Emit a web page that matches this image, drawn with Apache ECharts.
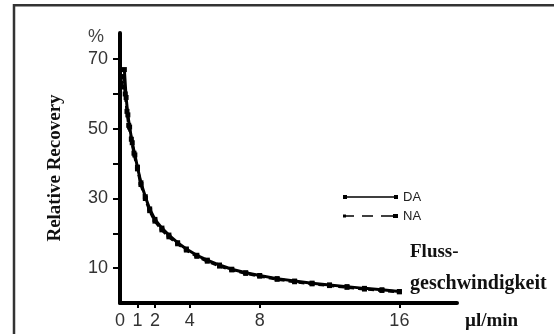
<!DOCTYPE html>
<html>
<head>
<meta charset="utf-8">
<script src="https://cdn.jsdelivr.net/npm/echarts@6/dist/echarts.min.js"></script>
<style>
html,body{margin:0;padding:0;background:#fff;}
#chart{width:554px;height:334px;}
</style>
</head>
<body>
<div id="chart"></div>
<script>
// Flow rate (µl/min)
var daFlow = [0.25, 0.35, 0.45, 0.55, 0.7, 0.85, 1.0, 1.2, 1.45, 1.7, 2.0, 2.4, 2.8, 3.3, 3.8, 4.4, 5.0, 5.7, 6.4, 7.2, 8.0, 9.0, 10.0, 11.0, 12.0, 13.0, 14.0, 15.0, 16.0];
// Relative recovery DA (%)
var daRecovery = [67, 59, 54, 50.5, 46, 42.5, 39, 34.5, 30.5, 27, 24, 21.5, 19.5, 17.3, 15.5, 13.7, 12.3, 10.9, 9.7, 8.7, 7.9, 7.0, 6.3, 5.7, 5.2, 4.7, 4.2, 3.8, 3.3];
var naFlow = [0.1, 0.2, 0.3, 0.4, 0.5, 0.65, 0.8, 1.0, 1.2, 1.45, 1.7, 2.0, 2.4, 2.8, 3.3, 3.8, 4.4, 5.0, 5.7, 6.4, 7.2, 8.0, 9.0, 10.0, 11.0, 12.0, 13.0, 14.0, 15.0, 16.0];
// Relative recovery NA (%)
var naRecovery = [62, 65, 60, 55, 51, 47, 43, 38.5, 34, 30, 26.5, 23.5, 21, 19, 17, 15.2, 13.4, 12, 10.6, 9.5, 8.5, 7.7, 6.8, 6.1, 5.5, 5.0, 4.5, 4.0, 3.6, 3.2];

var xTickLabels = [0, 1, 2, 4, 8, 16];
var xTicks = [1, 2, 4, 8, 16];
var yTickLabels = [10, 30, 50, 70];
var yTicks = [10, 20, 30, 40, 50, 60, 70];

function pairs(xs, ys) {
  return xs.map(function (x, i) { return [x, ys[i]]; });
}

var chart = echarts.init(document.getElementById('chart'), null, {renderer: 'canvas'});
var serif = 'Liberation Serif, Times New Roman, serif';
var sans = 'Liberation Sans, Arial, sans-serif';

chart.setOption({
  animation: false,
  backgroundColor: '#fff',
  grid: {left: 120, top: 33, width: 337, height: 270},
  legend: {
    orient: 'vertical',
    left: 338,
    top: 185,
    itemWidth: 55,
    itemHeight: 4,
    itemGap: 5,
    textStyle: {fontFamily: sans, fontSize: 13, lineHeight: 14, color: '#222'},
    data: [
      {name: 'DA', icon: 'path://M0,0H4V4H0Z M3,1.2H52V2.8H3Z M51,0H55V4H51Z'},
      {name: 'NA', icon: 'path://M0,0.5H3V3.5H0Z M2,1.3H11V2.7H2Z M19,1.3H30V2.7H19Z M38,1.3H51V2.7H38Z M50,0H55V4H50Z'}
    ]
  },
  xAxis: {
    type: 'value',
    min: 0,
    max: 19.3,
    splitLine: {show: false},
    axisLine: {show: true, lineStyle: {color: '#000', width: 4}},
    axisTick: {show: true, customValues: xTicks, length: 5, lineStyle: {color: '#000', width: 2}},
    axisLabel: {customValues: xTickLabels, margin: 9, fontFamily: sans, fontSize: 18, color: '#333'}
  },
  yAxis: {
    type: 'value',
    min: 0,
    max: 77.5,
    name: 'Relative Recovery',
    nameLocation: 'middle',
    nameGap: 55,
    nameTextStyle: {fontFamily: serif, fontWeight: 'bold', fontSize: 19, color: '#111'},
    splitLine: {show: false},
    axisLine: {show: true, lineStyle: {color: '#000', width: 4}},
    axisTick: {show: true, customValues: yTicks, length: 7, lineStyle: {color: '#000', width: 2}},
    axisLabel: {customValues: yTickLabels, margin: 12, fontFamily: sans, fontSize: 18, color: '#333'}
  },
  series: [
    {
      name: 'DA',
      type: 'line',
      data: pairs(daFlow, daRecovery),
      symbol: 'rect',
      symbolSize: 5,
      showAllSymbol: true,
      lineStyle: {color: '#000', width: 3, type: 'solid'},
      itemStyle: {color: '#000'}
    },
    {
      name: 'NA',
      type: 'line',
      data: pairs(naFlow, naRecovery),
      symbol: 'rect',
      symbolSize: 5,
      showAllSymbol: true,
      lineStyle: {color: '#000', width: 3, type: [6, 4]},
      itemStyle: {color: '#000'}
    }
  ],
  graphic: [
    {type: 'rect', z: -10, shape: {x: 14, y: 5.3, width: 700, height: 500}, style: {fill: 'none', stroke: '#333', lineWidth: 2.5}},
    {type: 'text', style: {x: 88, y: 37, text: '%', verticalAlign: 'middle', font: '18px ' + sans, fill: '#444'}},
    {type: 'text', style: {x: 410, y: 251.6, text: 'Fluss-', verticalAlign: 'middle', font: 'bold 19px ' + serif, fill: '#111'}},
    {type: 'text', style: {x: 410, y: 283.6, text: 'geschwindigkeit', verticalAlign: 'middle', font: 'bold 20px ' + serif, fill: '#111'}},
    {type: 'text', style: {x: 465, y: 320.6, text: 'µl/min', verticalAlign: 'middle', font: 'bold 19px ' + serif, fill: '#111'}}
  ]
});
</script>
</body>
</html>
